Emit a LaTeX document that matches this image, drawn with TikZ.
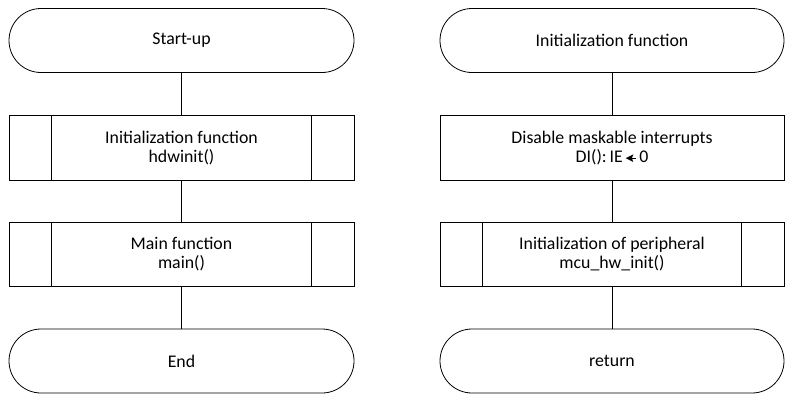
\documentclass[tikz,border=0pt]{standalone}
\usepackage{fontspec}
\setmainfont{Carlito}
\usetikzlibrary{arrows.meta}
\newcommand{\lefthead}{\tikz[baseline=-0.5ex,x=1pt,y=1pt]{\fill (0,0) -- (7.5,3.8) -- (6,0) -- (7.5,-3.8) -- cycle; \draw[line width=0.9pt] (5,0) -- (10,0);}}
\begin{document}
\begin{tikzpicture}[x=1pt,y=-1pt,
  every node/.style={font=\fontsize{17.8}{19}\selectfont, align=center, inner sep=0pt},
  term/.style={draw, line width=0.8pt, rounded corners=32pt, minimum height=64pt},
  proc/.style={draw, line width=0.8pt, minimum height=64.5pt},
  link/.style={line width=0.8pt}]
\useasboundingbox (0,0) rectangle (787,394);
% left column
\node[term, minimum width=345pt] (start) at (181.5,40.5) {Start-up};
\node[proc, minimum width=345pt] (init) at (181.5,148) {Initialization function\\hdwinit()};
\node[proc, minimum width=345pt] (main) at (181.5,254.3) {Main function\\main()};
\node[term, minimum width=345pt] (end) at (181.5,361) {End};
\foreach \n in {init, main} {
  \draw[link] ([xshift=43pt]\n.north west) -- ([xshift=43pt]\n.south west);
  \draw[link] ([xshift=-43pt]\n.north east) -- ([xshift=-43pt]\n.south east);
}
\draw[link] (start) -- (init);
\draw[link] (init) -- (main);
\draw[link] (main) -- (end);
% right column
\node[term, minimum width=344pt] (ifn) at (612,40.5) {Initialization function};
\node[proc, minimum width=344pt] (di) at (612,148) {Disable maskable interrupts\\DI():\,IE\,\lefthead\,0};
\node[proc, minimum width=344pt] (hw) at (612,254.3) {Initialization of peripheral\\mcu\_hw\_init()};
\node[term, minimum width=344pt] (ret) at (612,361) {return};
\draw[link] ([xshift=43pt]hw.north west) -- ([xshift=43pt]hw.south west);
\draw[link] ([xshift=-43pt]hw.north east) -- ([xshift=-43pt]hw.south east);
\draw[link] (ifn) -- (di);
\draw[link] (di) -- (hw);
\draw[link] (hw) -- (ret);
\end{tikzpicture}
\end{document}
